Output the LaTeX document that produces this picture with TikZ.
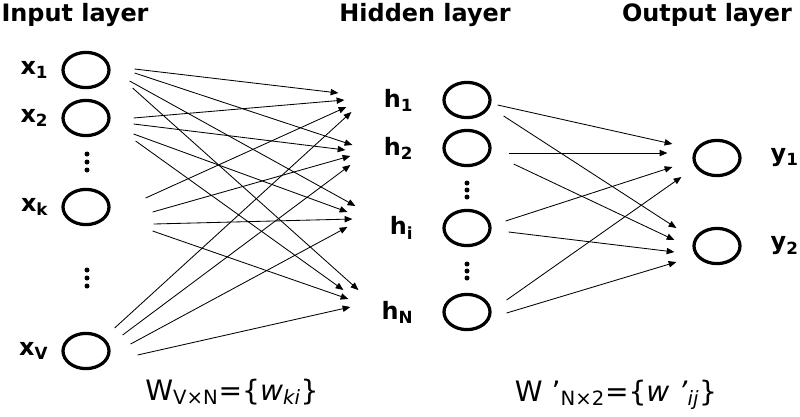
\documentclass[tikz,border=0pt]{standalone}
\usepackage{fontspec}
\setmainfont{DejaVu Sans}
\usetikzlibrary{shapes,arrows.meta,positioning}
\tikzstyle{unit}=[ellipse, draw=black, line width=2.3pt, minimum width=1.15cm, minimum height=0.88cm, inner sep=0pt]
\tikzstyle{lab}=[font=\fontsize{17}{20}\selectfont\bfseries, inner sep=0pt]
\tikzstyle{title}=[font=\fontsize{17}{20}\selectfont\bfseries, inner sep=0pt, anchor=base]
\tikzstyle{eq}=[font=\fontsize{20}{23}\selectfont, inner sep=0pt, anchor=base]
\tikzstyle{link}=[line width=0.6pt, -{Triangle[length=5.5pt,width=4.5pt]}]

\begin{document}
\begin{tikzpicture}[x=0.025cm, y=-0.025cm]
    \useasboundingbox (0,0) rectangle (800,416);

    % input layer
    \node (x1) [unit] at (86,70) {};
    \node (x2) [unit] at (86,118) {};
    \node (xk) [unit] at (86,207) {};
    \node (xV) [unit] at (86,351) {};
    \node (x1l) [lab, left=0.32cm of x1] {x\textsubscript{1}};
    \node (x2l) [lab, left=0.32cm of x2] {x\textsubscript{2}};
    \node (xkl) [lab, left=0.32cm of xk] {x\textsubscript{k}};
    \node (xVl) [lab, left=0.32cm of xV] {x\textsubscript{V}};

    % hidden layer
    \node (h1) [unit] at (467,100) {};
    \node (h2) [unit] at (467,148) {};
    \node (hi) [unit] at (467,228) {};
    \node (hN) [unit] at (467,312) {};
    \node (h1l) [lab, left=0.72cm of h1] {h\textsubscript{1}};
    \node (h2l) [lab, left=0.72cm of h2] {h\textsubscript{2}};
    \node (hil) [lab, left=0.72cm of hi] {h\textsubscript{i}};
    \node (hNl) [lab, left=0.72cm of hN] {h\textsubscript{N}};

    % output layer
    \node (y1) [unit] at (717,158) {};
    \node (y2) [unit] at (717,246) {};
    \node (y1l) [lab, right=0.72cm of y1] {y\textsubscript{1}};
    \node (y2l) [lab, right=0.72cm of y2] {y\textsubscript{2}};

    % vertical dots
    \foreach \y in {154,162,170,270,278,286} \fill (87,\y) circle (2.5);
    \foreach \y in {183,190,197,264,271,278} \fill (467,\y) circle (2.5);

    % input -> hidden
    \foreach \s/\a/\b/\t/\c/\d in {
        x1/24/-1/h1/-104/-7, x1/24/3/h2/-90/-3, x1/19/11/hi/-87/-22, x1/22/18/hN/-84/-22,
        x2/23/0/h1/-98/0, x2/23/6/h2/-97/2, x2/23/16/hi/-95/-16, x2/25/23/hN/-99/-22,
        xk/35/-9/h1/-96/7, xk/42/5/h2/-92/8, xk/43/17/hi/-90/-9, xk/42/24/hN/-94/-13,
        xV/4/-23/h1/-91/12, xV/12/-16/h2/-92/17, xV/20/-7/hi/-95/-1, xV/27/4/hN/-92/-5}
        \draw[link] ([shift={(\a,\b)}]\s.east) -- ([shift={(\c,\d)}]\t.west);

    % hidden -> output
    \foreach \s/\a/\b/\t/\c/\d in {
        h1/6/5/y1/-20/-14, h1/12/16/y2/-16/-18,
        h2/17/5/y1/-25/-5, h2/22/16/y2/-18/-6,
        hi/14/-7/y1/-20/9, hi/17/4/y2/-18/6,
        hN/15/-12/y1/-11/19, hN/15/1/y2/-16/16}
        \draw[link] ([shift={(\a,\b)}]\s.east) -- ([shift={(\c,\d)}]\t.west);

    \node (tin) [title] at (75,21) {Input layer};
    \node (thid) [title] at (425,21) {Hidden layer};
    \node (tout) [title] at (707,21) {Output layer};

    \node (win) [eq] at (232,400) {W\textsubscript{V×N}=\{\textit{w}\textsubscript{\textit{ki}}\}};
    \node (wout) [eq] at (616,401) {W ’\textsubscript{N×2}=\{\textit{w ’}\textsubscript{\textit{ij}}\}};
\end{tikzpicture}
\end{document}
